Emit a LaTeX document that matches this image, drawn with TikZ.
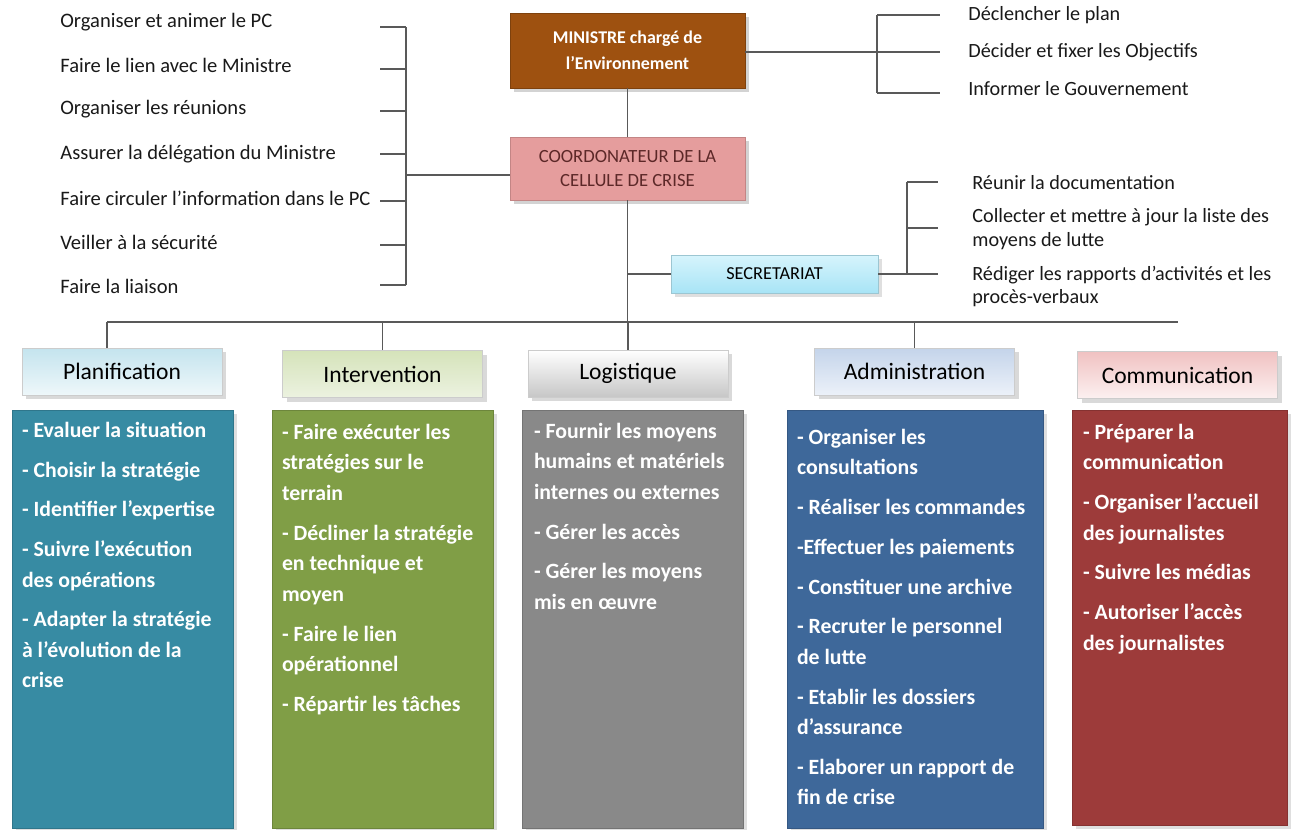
\documentclass[tikz,border=0pt]{standalone}
\usepackage{fontspec}
\setmainfont{Carlito}
\usetikzlibrary{shadows}

\definecolor{ministreBrown}{RGB}{158,81,16}
\definecolor{coordPink}{RGB}{229,157,157}
\definecolor{coordText}{RGB}{92,40,40}
\definecolor{secTop}{RGB}{214,244,252}
\definecolor{secBottom}{RGB}{168,228,246}
\definecolor{planTop}{RGB}{196,228,238}
\definecolor{planBottom}{RGB}{238,247,250}
\definecolor{intervTop}{RGB}{213,227,186}
\definecolor{intervBottom}{RGB}{236,242,224}
\definecolor{adminTop}{RGB}{196,212,234}
\definecolor{adminBottom}{RGB}{236,241,249}
\definecolor{communTop}{RGB}{240,194,194}
\definecolor{communBottom}{RGB}{252,240,240}
\definecolor{planTeal}{RGB}{55,139,163}
\definecolor{intervGreen}{RGB}{128,158,70}
\definecolor{logistGray}{RGB}{137,137,137}
\definecolor{adminBlue}{RGB}{62,104,154}
\definecolor{communRed}{RGB}{157,59,58}

\tikzset{
  link/.style={draw=black!65, line width=0.8pt},
  ministre/.style={rectangle, fill=ministreBrown, draw=ministreBrown!80!black, text=white,
    font=\fontsize{10.2}{14.8}\selectfont\bfseries, align=center,
    minimum width=4.7cm, minimum height=1.5cm, drop shadow={opacity=0.35}},
  coordo/.style={rectangle, fill=coordPink, draw=coordPink!85!black, text=coordText,
    font=\fontsize{10.6}{13.6}\selectfont, align=center,
    minimum width=4.7cm, minimum height=1.26cm, drop shadow={opacity=0.35}},
  secbox/.style={rectangle, top color=secTop, bottom color=secBottom, draw=secBottom!70!gray,
    font=\fontsize{10.4}{12}\selectfont, minimum width=4.14cm, minimum height=0.76cm,
    drop shadow={opacity=0.25}},
  headbox/.style={rectangle, draw=black!20, font=\fontsize{13.4}{15}\selectfont,
    minimum width=4cm, minimum height=0.94cm, drop shadow={opacity=0.3}},
  bigbox/.style={rectangle, draw=#1!85!black, fill=#1, minimum height=8.36cm,
    drop shadow={opacity=0.25}},
  lefttxt/.style={anchor=west, inner sep=0, font=\fontsize{11.7}{14}\selectfont, text=black!90},
  righttxt/.style={anchor=west, inner sep=0, align=left, font=\fontsize{11.5}{13.6}\selectfont, text=black!90},
  itemtxt/.style={anchor=north west, inner sep=0, align=left, text=white,
    font=\fontsize{12.4}{17.4}\selectfont\bfseries}
}

\begin{document}
\begin{tikzpicture}[x=0.02cm, y=-0.02cm]
  \useasboundingbox (0,0) rectangle (1292,829);
  \def\Lx{60}
  \def\Rx{968}
  \def\Sx{972}
  \def\gap{5.2pt}

  % top of the chart
  \node[ministre] (ministre) at (627.5,50.5) {MINISTRE chargé de\\l’Environnement};
  \node[coordo] (coord) at (627.5,168.5) {COORDONATEUR DE LA\\CELLULE DE CRISE};
  \node[secbox] (secr) at (774.5,274) {SECRETARIAT};
  \draw[link] (ministre) -- (coord);

  % left bracket
  \coordinate (lspine) at (406,175);
  \foreach \n/\y/\ty/\t in {1/22/27/Organiser et animer le PC,
      2/65/69/Faire le lien avec le Ministre,
      3/109/111/Organiser les réunions,
      4/154/154/Assurer la délégation du Ministre,
      5/198/201/Faire circuler l’information dans le PC,
      6/242/245/Veiller à la sécurité,
      7/286/285/Faire la liaison} {
    \node[lefttxt] (l\n) at (\Lx,\y) {\t};
    \coordinate (lt\n) at (380,\ty);
    \draw[link] (lt\n) -- (lt\n -| lspine);
  }
  \draw[link] (lt1 -| lspine) -- (lt7 -| lspine);
  \draw[link] (lspine) -- (lspine -| coord.west);

  % right bracket of the minister
  \coordinate (mspine) at (877,52);
  \foreach \n/\y/\ty/\t in {1/15/15/Déclencher le plan,
      2/52/52/Décider et fixer les Objectifs,
      3/89/93/Informer le Gouvernement} {
    \node[righttxt] (m\n) at (\Rx,\y) {\t};
    \coordinate (mt\n) at (940,\ty);
    \draw[link] (mt\n -| mspine) -- (mt\n);
  }
  \draw[link] (mt1 -| mspine) -- (mt3 -| mspine);
  \draw[link] (ministre.east |- mspine) -- (mspine);

  % secretariat
  \coordinate (sspine) at (907,274);
  \node[righttxt] (s1) at (\Sx,183) {Réunir la documentation};
  \node[righttxt] (s2) at (\Sx,229) {Collecter et mettre à jour la liste des\\moyens de lutte};
  \node[righttxt] (s3) at (\Sx,286.5) {Rédiger les rapports d’activités et les\\procès-verbaux};
  \coordinate (st1) at (938,182);
  \coordinate (st2) at (938,228);
  \coordinate (st3) at (938,274);
  \draw[link] (st1 -| sspine) -- (st1);
  \draw[link] (st2 -| sspine) -- (st2);
  \draw[link] (secr.east) -- (st3);
  \draw[link] (st1 -| sspine) -- (sspine);
  \draw[link] (secr.west) -- (secr.west -| coord.south);

  % bus and cells
  \coordinate (busL) at (107,322);
  \coordinate (busR) at (1178,322);
  \draw[link] (coord.south) -- (coord.south |- busL);
  \draw[link] (busL) -- (busR);

  \node[headbox, top color=planTop, bottom color=planBottom] (planhead) at (122,371.5) {Planification};
  \node[headbox, top color=intervTop, bottom color=intervBottom] (intervhead) at (382.5,374) {Intervention};
  \node[headbox, top color=white, bottom color=black!22] (logisthead) at (628,373.5) {Logistique};
  \node[headbox, top color=adminTop, bottom color=adminBottom] (adminhead) at (914.5,371.5) {Administration};
  \node[headbox, top color=communTop, bottom color=communBottom] (communhead) at (1177.5,375) {Communication};
  \draw[link] (busL) -- (busL |- planhead.north);
  \draw[link] (intervhead.north |- busL) -- (intervhead.north);
  \draw[link] (logisthead.north |- busL) -- (logisthead.north);
  \draw[link] (adminhead.north |- busL) -- (adminhead.north);

  \node[bigbox=planTeal, minimum width=4.42cm] (planbox) at (122.5,619) {};
  \node[bigbox=intervGreen, minimum width=4.42cm] (intervbox) at (382.5,619) {};
  \node[bigbox=logistGray, minimum width=4.42cm] (logistbox) at (632.5,619) {};
  \node[bigbox=adminBlue, minimum width=5.12cm] (adminbox) at (915,619) {};
  \node[bigbox=communRed, minimum width=4.3cm, minimum height=8.3cm] (communbox) at (1179.5,617.5) {};

  \node[itemtxt] (plantxt) at ([shift={(10,12)}]planbox.north west) {%
    - Evaluer la situation\\[\gap]
    - Choisir la stratégie\\[\gap]
    - Identifier l’expertise\\[\gap]
    - Suivre l’exécution\\des opérations\\[\gap]
    - Adapter la stratégie\\à l’évolution de la\\crise};
  \node[itemtxt] (intervtxt) at ([shift={(10,14)}]intervbox.north west) {%
    - Faire exécuter les\\stratégies sur le\\terrain\\[\gap]
    - Décliner la stratégie\\en technique et\\moyen\\[\gap]
    - Faire le lien\\opérationnel\\[\gap]
    - Répartir les tâches};
  \node[itemtxt] (logisttxt) at ([shift={(12,13)}]logistbox.north west) {%
    - Fournir les moyens\\humains et matériels\\internes ou externes\\[\gap]
    - Gérer les accès\\[\gap]
    - Gérer les moyens\\mis en œuvre};
  \node[itemtxt] (admintxt) at ([shift={(10,19)}]adminbox.north west) {%
    - Organiser les\\consultations\\[\gap]
    - Réaliser les commandes\\[\gap]
    -Effectuer les paiements\\[\gap]
    - Constituer une archive\\[\gap]
    - Recruter le personnel\\de lutte\\[\gap]
    - Etablir les dossiers\\d’assurance\\[\gap]
    - Elaborer un rapport de\\fin de crise};
  \node[itemtxt] (communtxt) at ([shift={(11,14)}]communbox.north west) {%
    - Préparer la\\communication\\[\gap]
    - Organiser l’accueil\\des journalistes\\[\gap]
    - Suivre les médias\\[\gap]
    - Autoriser l’accès\\des journalistes};
\end{tikzpicture}
\end{document}
